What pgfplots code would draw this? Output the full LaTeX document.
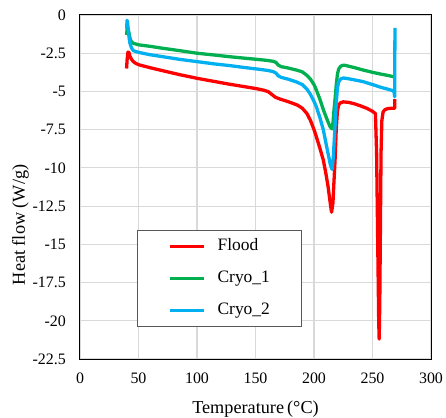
\documentclass[border=0pt]{standalone}
\usepackage{fontspec}
\setmainfont{Liberation Serif}
\usepackage{pgfplots}
\pgfplotsset{compat=1.18}
\definecolor{xlred}{HTML}{FF0000}
\definecolor{xlgreen}{HTML}{00B050}
\definecolor{xlcyan}{HTML}{00B0F0}
\definecolor{gridgray}{HTML}{D9D9D9}
\definecolor{boxgray}{HTML}{595959}
\begin{document}
\begin{tikzpicture}
\begin{axis}[
  scale only axis, width=351bp, height=344bp,
  xmin=0, xmax=300, ymin=-22.5, ymax=0,
  xtick={0,50,...,300}, xticklabels={0,50,100,150,200,250,300},
  ytick={-22.5,-20,-17.5,-15,-12.5,-10,-7.5,-5,-2.5,0},
  yticklabels={-22.5,-20,-17.5,-15,-12.5,-10,-7.5,-5,-2.5,0},
  major tick length=0pt,
  grid=major, major grid style={gridgray, line width=1.2bp},
  axis line style={black, line width=1bp},
  ticklabel style={font=\fontsize{16}{16}\selectfont},
  xticklabel style={anchor=north, inner sep=0pt, yshift=-14bp},
  yticklabel style={anchor=east, inner sep=0pt, xshift=-14bp},
  xlabel={Temperature\,(°C)},
  ylabel={Heat flow (W/g)},
  label style={font=\fontsize{18.3}{18.3}\selectfont},
  xlabel style={at={(axis description cs:0.5,0)}, anchor=base, yshift=-54bp},
  ylabel style={at={(axis description cs:-0.157,0.39)}, anchor=base},
  legend style={at={(0.1615,0.375)}, anchor=north west, draw=boxgray, line width=1bp,
    fill=white, font=\fontsize{17.5}{17.5}\selectfont,
    inner xsep=31.6bp, inner ysep=8bp, row sep=16bp,
    nodes={inner sep=0pt, text height=12bp, text depth=4bp},
    /tikz/every odd column/.append style={column sep=12bp}},
  legend cell align=left,
  legend image code/.code={\draw[#1, line width=2.8bp] (0bp,0bp) -- (34bp,0bp);},
  every axis plot/.append style={line width=3.3bp, line join=round},
]
% Flood
\addplot[xlred] coordinates {
(39.8,-3.5) (40.3,-2.9) (41,-2.42) (41.8,-2.45) (42.7,-2.7) (44,-2.9) (45.6,-3.05)
(48,-3.18) (51,-3.27) (60,-3.45) (71,-3.65) (85,-3.9) (100,-4.14) (115,-4.35)
(128,-4.53) (140,-4.68) (151,-4.82) (157,-4.92) (161,-5.02) (164,-5.2) (167,-5.38)
(171,-5.5) (176,-5.62) (182,-5.78) (186,-5.9) (190,-6.1) (194,-6.45) (197,-6.9)
(200,-7.5) (202,-7.96) (205,-8.7) (208,-9.5) (210,-10.3) (212,-11.2) (213.7,-12.2)
(215,-12.9) (216.2,-12.3) (217,-11) (218,-9.5) (219,-7.5) (220,-6.3) (221,-5.9)
(222.5,-5.75) (225,-5.68) (230,-5.72) (235,-5.82) (240,-5.95) (245,-6.1) (250,-6.3)
(252.5,-6.45) (253.5,-9) (255.3,-20) (255.7,-21.2) (256.2,-19) (257.3,-9) (258,-6.9)
(259,-6.35) (260.5,-6.2) (263,-6.12) (266,-6.1) (268.9,-6.1) (269.1,-5.5)
};
% Cryo_1
\addplot[xlgreen] coordinates {
(39.8,-1.3) (40.3,-0.9) (41,-0.85) (42,-1.25) (43,-1.6) (44,-1.75) (45.6,-1.85)
(50,-1.95) (60,-2.05) (71,-2.18) (85,-2.33) (100,-2.5) (115,-2.62) (128,-2.73)
(140,-2.82) (151,-2.9) (160,-2.97) (165,-3.03) (167.5,-3.1) (169.5,-3.28) (172,-3.38)
(178,-3.47) (185,-3.6) (190,-3.72) (194,-3.95) (197,-4.2) (200,-4.55) (202,-4.9)
(205,-5.5) (208,-6.2) (211,-6.8) (213.7,-7.3) (215.4,-7.45) (216.3,-7.0) (217,-6.3)
(218,-5.5) (219,-4.6) (220,-3.9) (221,-3.55) (222.5,-3.38) (224,-3.3) (226,-3.28)
(228,-3.32) (235,-3.45) (242,-3.6) (250,-3.75) (258,-3.88) (263,-3.95) (267.5,-4.03)
(269,-4.05)
};
% Cryo_2
\addplot[xlcyan] coordinates {
(39.9,-0.9) (40.2,-0.35) (40.6,-0.45) (41.3,-1.0) (42,-1.5) (42.7,-1.85) (44,-2.15)
(45.6,-2.33) (48,-2.4) (51,-2.46) (60,-2.6) (71,-2.73) (85,-2.9) (100,-3.05)
(115,-3.2) (128,-3.31) (140,-3.43) (151,-3.53) (160,-3.62) (165,-3.7) (167.5,-3.8)
(169.5,-3.98) (172,-4.08) (178,-4.2) (185,-4.38) (190,-4.55) (194,-4.85) (197,-5.2)
(200,-5.65) (202,-6.0) (205,-6.7) (208,-7.52) (210,-8.3) (212,-9.05) (214,-9.8)
(215.5,-10.1) (216.5,-9.3) (217.3,-8.2) (218,-7.3) (219,-5.8) (220,-4.8) (221,-4.4)
(222.5,-4.2) (225,-4.12) (228,-4.15) (235,-4.25) (242,-4.36) (250,-4.55) (258,-4.75)
(263,-4.85) (267.5,-4.95) (268.5,-5.05) (268.9,-5.35) (269.2,-0.85)
};
\legend{Flood, Cryo\_1, Cryo\_2}
\end{axis}
\pgfresetboundingbox
\path[use as bounding box] ([shift={(-80bp,-59bp)}]current axis.south west) rectangle ++(446bp,418bp);
\end{tikzpicture}
\end{document}
